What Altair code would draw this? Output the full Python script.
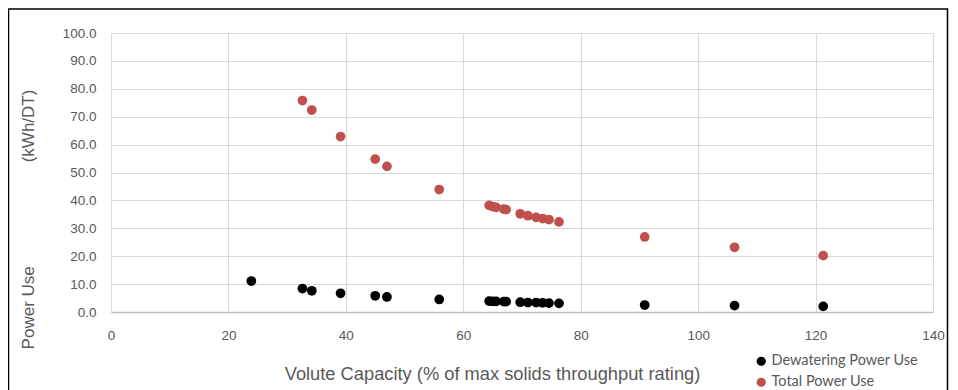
import altair as alt
import pandas as pd

series_names = ["Dewatering Power Use", "Total Power Use"]
series_colors = ["#000000", "#C0504D"]

dew_x = [23.9, 32.6, 34.2, 39.1, 45.0, 47.0, 55.9, 64.4, 65.0, 65.6, 66.9, 67.3,
         69.7, 71.0, 72.4, 73.5, 74.6, 76.3, 90.9, 106.2, 121.3]
dew_y = [11.1, 8.4, 7.6, 6.7, 5.8, 5.4, 4.5, 3.9, 3.8, 3.8, 3.7, 3.7,
         3.5, 3.4, 3.4, 3.3, 3.2, 3.1, 2.5, 2.3, 2.0]

tot_x = [32.6, 34.2, 39.1, 45.0, 47.0, 55.9, 64.4, 65.0, 65.6, 66.9, 67.3,
         69.7, 71.0, 72.4, 73.5, 74.6, 76.3, 90.9, 106.2, 121.3]
tot_y = [75.8, 72.4, 62.9, 54.8, 52.2, 43.9, 38.2, 37.8, 37.5, 36.9, 36.7,
         35.2, 34.5, 33.9, 33.5, 33.1, 32.3, 26.9, 23.2, 20.2]

x_ticks = [0, 20, 40, 60, 80, 100, 120, 140]
y_ticks = [0, 10, 20, 30, 40, 50, 60, 70, 80, 90, 100]

x_title = "Volute Capacity (% of max solids throughput rating)"
y_title = "Power Use" + "\u00a0" * 22 + "(kWh/DT)"

rows = [{"x": a, "y": b, "series": series_names[0]} for a, b in zip(dew_x, dew_y)]
rows += [{"x": a, "y": b, "series": series_names[1]} for a, b in zip(tot_x, tot_y)]
df = pd.DataFrame(rows)

TFONT = "Liberation Sans"
LFONT = "Lato"
GREY = "#595959"

points = alt.Chart(df).mark_circle(size=95, opacity=1).encode(
    x=alt.X("x:Q", scale=alt.Scale(domain=[0, 140], nice=False),
            axis=alt.Axis(values=x_ticks, format="d", title=x_title, labelFlush=False,
                          labelPadding=16, titleX=381, titleY=53, titleAnchor="middle",
                          titleFontSize=18.3)),
    y=alt.Y("y:Q", scale=alt.Scale(domain=[0, 100], nice=False),
            axis=alt.Axis(values=y_ticks, format=".1f", title=y_title, labelFlush=False,
                          labelPadding=15, titleX=-74, titleY=186, titleFontSize=17)),
    color=alt.Color("series:N",
                    scale=alt.Scale(domain=series_names, range=series_colors),
                    legend=alt.Legend(title=None, orient="none", legendX=643, legendY=321,
                                      symbolType="circle", symbolSize=85,
                                      labelFontSize=14.5, labelColor=GREY, labelFont=LFONT,
                                      labelOffset=3, rowPadding=6, symbolStrokeWidth=0)),
    order=alt.Order("series:N", sort="descending"),
)

border = alt.Chart(pd.DataFrame({"a": [0]})).mark_rect(
    fill="transparent", stroke="black", strokeWidth=1.5
).encode(x=alt.value(-102.5), x2=alt.value(836.5), y=alt.value(-24), y2=alt.value(385))

chart = alt.layer(border, points).properties(
    width=822, height=279,
    autosize=alt.AutoSizeParams(type="none"),
    padding={"left": 103, "top": 25, "right": 17, "bottom": 95},
    background="white",
).configure_view(stroke="transparent").configure_axis(
    gridColor="#d9d9d9", gridWidth=1, domainColor="#bfbfbf", domainWidth=1.5,
    ticks=False, labelFont=TFONT, labelFontSize=13.5, labelColor=GREY,
    titleFont=TFONT, titleColor=GREY, titleFontWeight="normal",
).configure_axisY(domain=False)

chart.save("out.html", embed_options={"renderer": "svg", "actions": False})
